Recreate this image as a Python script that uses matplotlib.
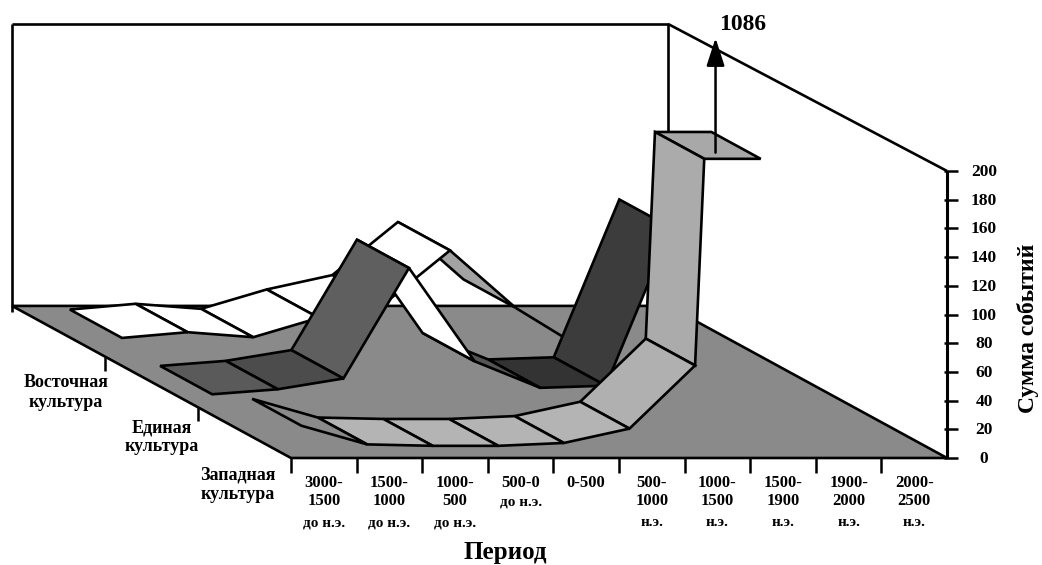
import matplotlib
matplotlib.use('Agg')
import matplotlib.pyplot as plt
from matplotlib.patches import Polygon

plt.rcParams['font.family'] = ['Liberation Serif', 'DejaVu Serif']
plt.rcParams['font.weight'] = 'bold'

PERIOD_RANGE = ['3000-\n1500', '1500-\n1000', '1000-\n500', '500-0', '0-500',
                '500-\n1000', '1000-\n1500', '1500-\n1900', '1900-\n2000', '2000-\n2500']
PERIOD_ERA = ['до н.э.', 'до н.э.', 'до н.э.', 'до н.э.', '',
              'н.э.', 'н.э.', 'н.э.', 'н.э.', 'н.э.']
CULTURES = ['Западная\nкультура', 'Единая\nкультура', 'Восточная\nкультура']
VALUE_TICKS = [0, 20, 40, 60, 80, 100, 120, 140, 160, 180, 200]

EAST = [7, 11, 7.5, 21, 31, 68, 28, 0]
UNITED = [2, 5.5, 13, 90, 25, 6.5, 8, 118]
WEST = [14, 1, 0, 0, 2, 12, 56, 1086]

# fill of every panel between two neighbouring periods, None = only the front edge shows
FLOOR = '#8a8a8a'
EAST_FILL = ['white', 'white', 'white', 'white', 'white', '#a2a2a2', None]
UNITED_FILL = ['#5a5a5a', '#4c4c4c', '#5f5f5f', 'white', '#555555', '#333333', '#3c3c3c']
WEST_FILL = [FLOOR, '#b4b4b4', '#b4b4b4', '#b4b4b4', '#b4b4b4', '#b0b0b0', '#ababab']
CAP_FILL = '#a8a8a8'

V_MAX = 200
WALL_TOP = 196.5  # the back top edge of the scan sits a little lower
LW = 1.9


def project(x, u, v):
    # oblique view: x = period, u = culture depth, v = sum of events
    return 291 + x * 65.6 - u * 93, 458 - u * 50.7 - v * 1.435


fig = plt.figure(figsize=(10.42, 5.65), dpi=100)
ax = fig.add_axes([0, 0, 1, 1])
ax.set_xlim(0, 1042)
ax.set_ylim(565, 0)
ax.axis('off')

order = [1]


def next_z():
    # painter's order, lines must not jump over the panels drawn later
    order[0] += 1
    return order[0]


def poly(points, fill):
    ax.add_patch(Polygon(points, closed=True, facecolor=fill, edgecolor='black',
                         linewidth=LW, joinstyle='miter', zorder=next_z()))


def seg(a, b, lw=LW):
    ax.plot([a[0], b[0]], [a[1], b[1]], color='black', lw=lw,
            solid_capstyle='butt', zorder=next_z())


def panel(x0, v0, x1, v1, u0, u1, fill):
    if fill is None:
        seg(project(x0, u0, v0), project(x1, u0, v1))
        return
    poly([project(x0, u1, v0), project(x0, u0, v0),
          project(x1, u0, v1), project(x1, u1, v1)], fill)


def ribbon(values, fills, u0, u1):
    # right to left, the left panels lie over the right ones
    for i in range(len(values) - 2, -1, -1):
        x0, x1 = i + 0.5, i + 1.5
        v0, v1 = values[i], values[i + 1]
        if v1 > V_MAX:
            xc = x0 + (V_MAX - v0) / (v1 - v0)
            panel(xc, V_MAX, x1, V_MAX, u0, u1, CAP_FILL)
            panel(x0, v0, xc, V_MAX, u0, u1, fills[i])
        else:
            panel(x0, v0, x1, v1, u0, u1, fills[i])


# walls and floor
seg(project(0, 3, -4), project(0, 3, WALL_TOP))
seg(project(0, 3, WALL_TOP), project(10, 3, WALL_TOP))
seg(project(10, 3, WALL_TOP), project(10, 0, V_MAX))
seg(project(10, 3, WALL_TOP), project(10, 3, 0))
poly([project(0, 3, 0), project(10, 3, 0), project(10, 0, 0), project(0, 0, 0)], FLOOR)

ribbon(EAST, EAST_FILL, 2.17, 2.73)
ribbon(UNITED, UNITED_FILL, 1.2, 1.76)
ribbon(WEST, WEST_FILL, 0.24, 0.77)

# value outside the scale
x_a, y_a = project(7.15, 0.5, V_MAX)
ax.annotate('', xy=(x_a + 2, 38), xytext=(x_a + 2, y_a + 7),
            arrowprops=dict(arrowstyle='-|>,head_length=1.7,head_width=0.55',
                            color='black', lw=1.8, shrinkA=0, shrinkB=0),
            zorder=next_z())
ax.text(x_a + 29, 24, '1086', fontsize=17, ha='center', va='center')

# value axis
seg(project(10, 0, 0), project(10, 0, V_MAX), 2.2)
for v in VALUE_TICKS:
    xt, yt = project(10, 0, v)
    seg((xt - 3, yt), (xt + 11, yt), 1.8)
    ax.text(xt + 37, yt + 1, str(v), fontsize=12.5, ha='center', va='center')
ax.text(1028, 328, 'Сумма событий', fontsize=17, rotation=90, ha='center', va='center')

# period axis
for i in range(len(PERIOD_RANGE)):
    xt, yt = project(i, 0, 0)
    seg((xt, yt), (xt, yt + 15), 1.8)
for i, (rng, era) in enumerate(zip(PERIOD_RANGE, PERIOD_ERA)):
    xt, yt = project(i + 0.5, 0, 0)
    ax.text(xt, yt + 17, rng, fontsize=12, ha='center', va='top', linespacing=1.2)
    rows = rng.count('\n') + 1
    ax.text(xt, yt + 24 + rows * 20.5, era, fontsize=11, ha='center', va='center')
ax.text(505, 552, 'Период', fontsize=18, ha='center', va='center')

# culture axis
offsets = [(-53, 27), (-36, 30), (-39, 36)]
for u in [1, 2]:
    xt, yt = project(0, u, 0)
    seg((xt, yt), (xt, yt + 14), 1.8)
for u, name in enumerate(CULTURES):
    xt, yt = project(0, u, 0)
    ax.text(xt + offsets[u][0], yt + offsets[u][1], name, fontsize=13,
            ha='center', va='center', linespacing=1.17)

fig.savefig('out.png', dpi=100)
